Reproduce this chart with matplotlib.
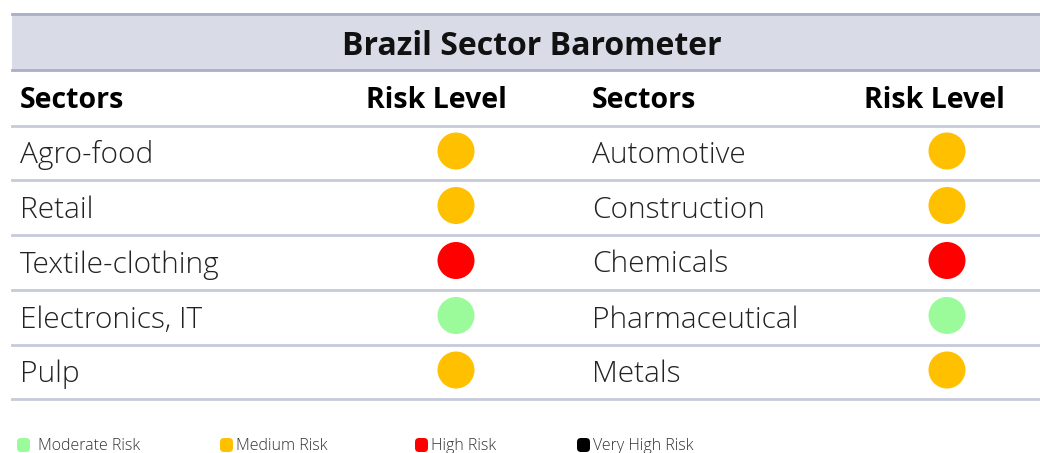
import matplotlib.pyplot as plt
from matplotlib.patches import Circle, FancyBboxPatch, Rectangle

title = "Brazil Sector Barometer"
headers = ["Sectors", "Risk Level", "Sectors", "Risk Level"]

left_sectors = ["Agro-food", "Retail", "Textile-clothing", "Electronics, IT", "Pulp"]
left_risk = ["Medium", "Medium", "High", "Moderate", "Medium"]
right_sectors = ["Automotive", "Construction", "Chemicals", "Pharmaceutical", "Metals"]
right_risk = ["Medium", "Medium", "High", "Moderate", "Medium"]

legend_labels = ["Moderate Risk", "Medium Risk", "High Risk", "Very High Risk"]
risk_colors = {"Moderate": "#9BFB9B", "Medium": "#FFC000", "High": "#FF0000", "Very High": "#000000"}

FONT = ["Open Sans", "DejaVu Sans"]
LINE = "#C6CAD9"


def main():
    fig = plt.figure(figsize=(10.40, 4.53), dpi=100)
    ax = fig.add_axes([0, 0, 1, 1])
    ax.set_xlim(0, 1040)
    ax.set_ylim(453, 0)
    ax.axis("off")

    # title band
    ax.add_patch(Rectangle((12, 13), 1028, 57, facecolor="#D9DCE6", edgecolor="none"))
    ax.plot([12, 1040], [14, 14], color="#A9B0C4", lw=2)
    ax.plot([12, 1040], [70, 70], color="#A9B0C4", lw=2)
    ax.text(532, 55, title, ha="center", va="baseline", fontsize=23,
            fontweight=700, family=FONT, color="#111111")

    # column headers
    ax.text(20, 108, headers[0], ha="left", va="baseline", fontsize=20.5, fontweight=700, family=FONT)
    ax.text(436, 108, headers[1], ha="center", va="baseline", fontsize=20.5, fontweight=700, family=FONT)
    ax.text(592, 108, headers[2], ha="left", va="baseline", fontsize=20.5, fontweight=700, family=FONT)
    ax.text(934, 108, headers[3], ha="center", va="baseline", fontsize=20.5, fontweight=700, family=FONT)

    row_lines = [126, 180, 235, 290, 345, 399]
    for y in row_lines:
        ax.plot([12, 1040], [y, y], color=LINE, lw=2)

    for i in range(len(left_sectors)):
        yc = (row_lines[i] + row_lines[i + 1]) / 2
        ax.text(20, yc + 10, left_sectors[i], ha="left", va="baseline", fontsize=21.5,
                fontweight=300, family=FONT, color="#222222")
        ax.text(592, yc + 10, right_sectors[i], ha="left", va="baseline", fontsize=21.5,
                fontweight=300, family=FONT, color="#222222")
        ax.add_patch(Circle((456, yc - 2), 18.5, facecolor=risk_colors[left_risk[i]], edgecolor="none"))
        ax.add_patch(Circle((947, yc - 2), 18.5, facecolor=risk_colors[right_risk[i]], edgecolor="none"))

    # legend
    box_x = [16, 219, 414, 576]
    keys = ["Moderate", "Medium", "High", "Very High"]
    for x, k, lab in zip(box_x, keys, legend_labels):
        ax.add_patch(FancyBboxPatch((x + 1, 438), 13, 14, boxstyle="round,pad=0,rounding_size=4",
                                    facecolor=risk_colors[k], edgecolor="none"))
        gap = 22 if k == "Moderate" else 17
        ax.text(x + gap, 450, lab, ha="left", va="baseline", fontsize=11.5,
                family=FONT, fontweight=300, color="#333333")

    fig.savefig("out.png", dpi=100)
    plt.close()


if __name__ == "__main__":
    main()
